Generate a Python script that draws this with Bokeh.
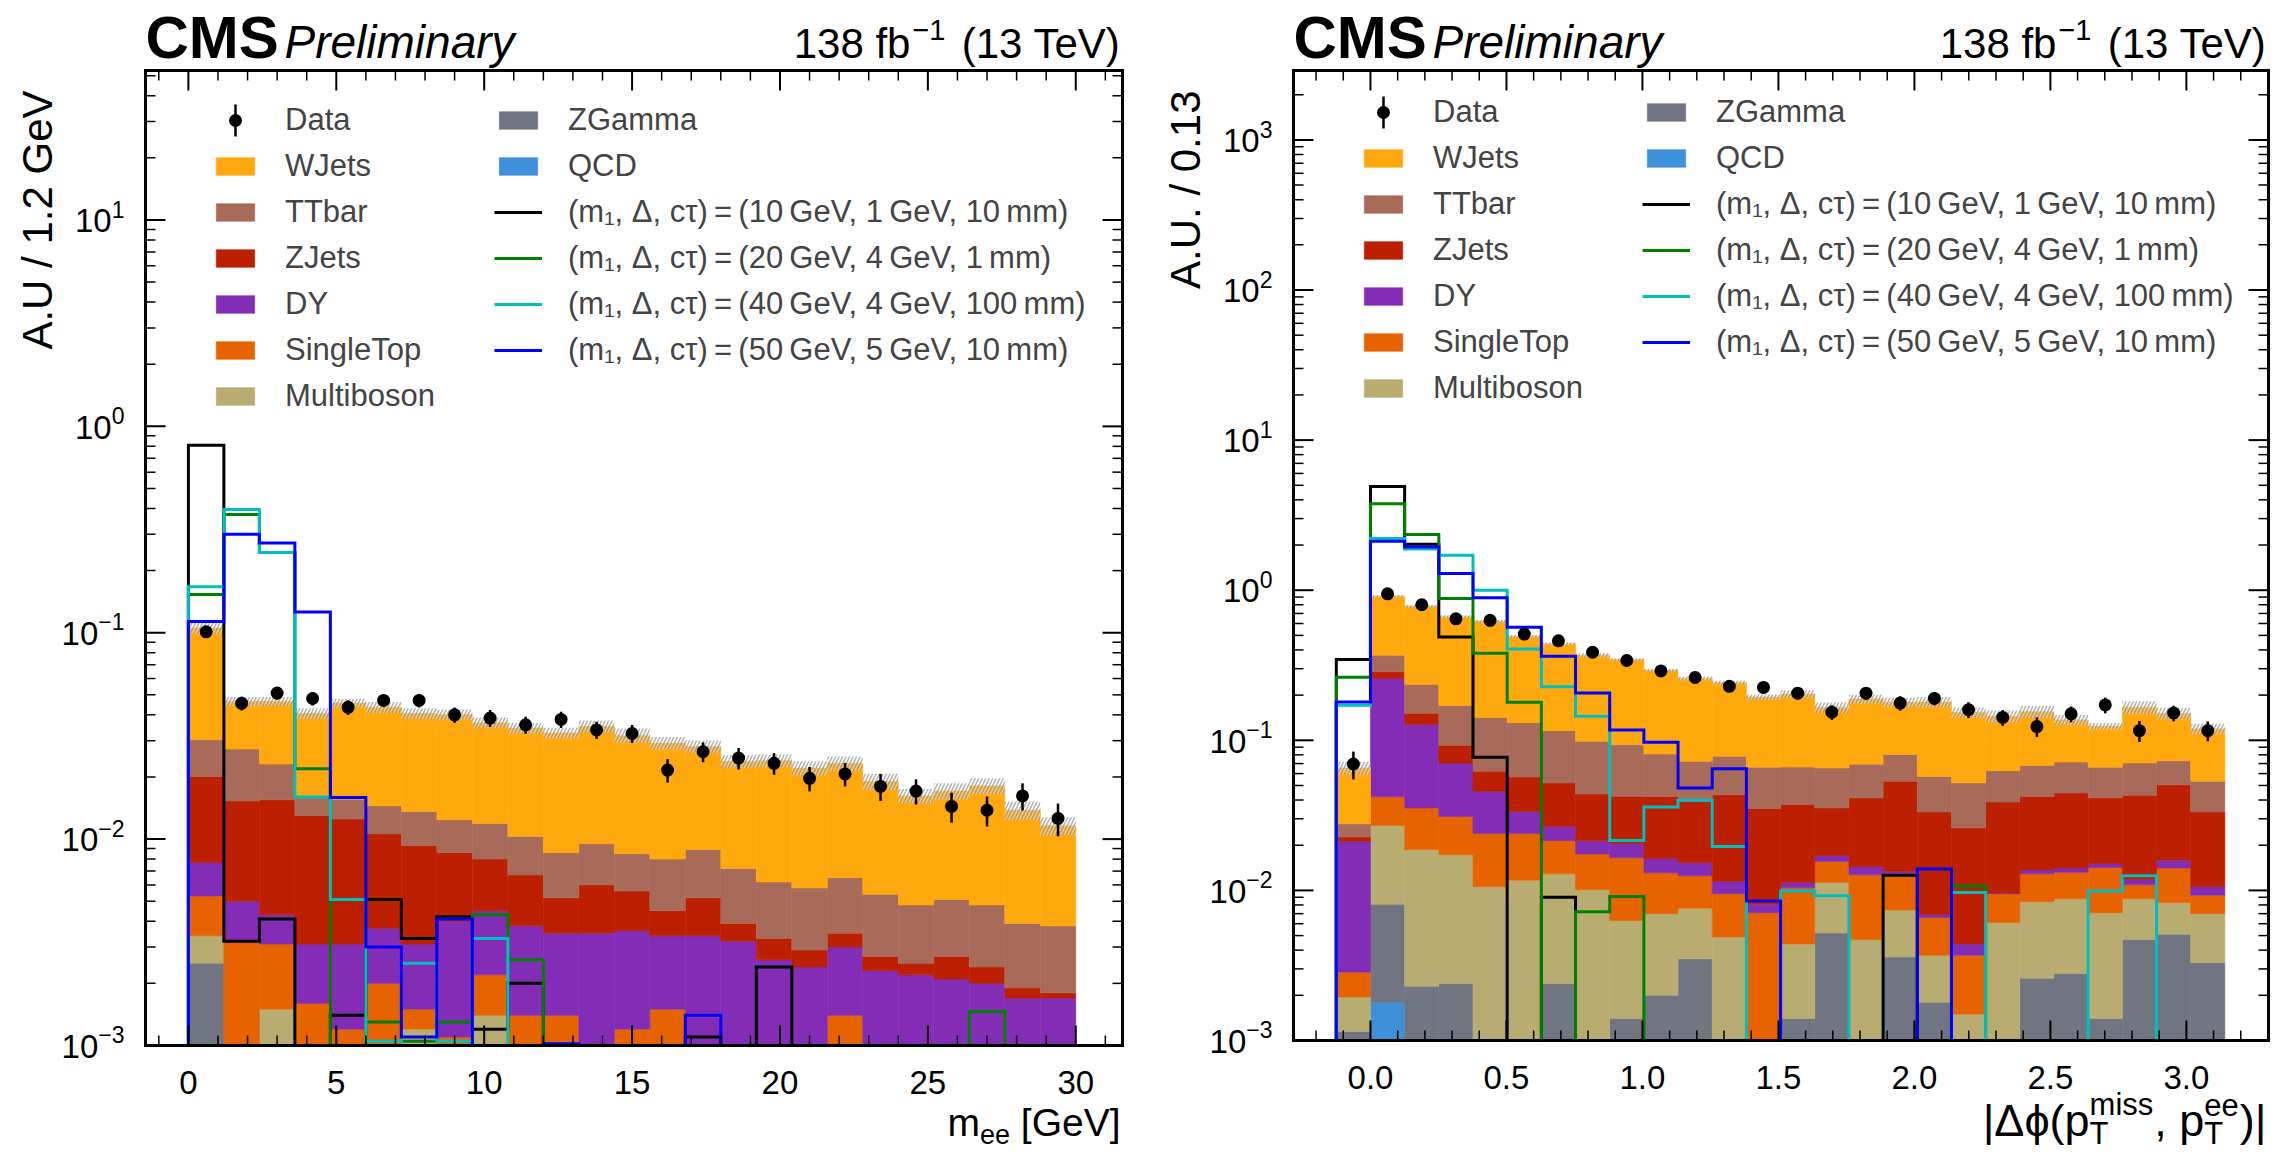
import math
from bokeh.plotting import figure
from bokeh.layouts import row
from bokeh.models import ColumnDataSource, Range1d, Legend, LegendItem
from bokeh.core.properties import value
from bokeh.embed import file_html
from bokeh.resources import INLINE

FONT = "Liberation Sans"
HEIGHT = 1158
K_BASE = 0.34   # alphabetic text is drawn this many em lower than its anchor; compensate
ROW_H, ROW_GAP = 36, 10   # legend row height and gap

# stacking order, bottom to top
PROCESSES = ["QCD", "ZGamma", "Multiboson", "SingleTop", "DY", "ZJets", "TTbar", "WJets"]
COLORS = {"WJets": "#ffa90e", "TTbar": "#a96b59", "ZJets": "#bd1f01", "DY": "#832db6",
          "SingleTop": "#e76300", "Multiboson": "#b9ac70", "ZGamma": "#717581", "QCD": "#3f90da"}

SIG_LABELS = [
    "(m\u2081, \u0394, c\u03c4)\u2009=\u2009(10\u2009GeV, 1\u2009GeV, 10\u2009mm)",
    "(m\u2081, \u0394, c\u03c4)\u2009=\u2009(20\u2009GeV, 4\u2009GeV, 1\u2009mm)",
    "(m\u2081, \u0394, c\u03c4)\u2009=\u2009(40\u2009GeV, 4\u2009GeV, 100\u2009mm)",
    "(m\u2081, \u0394, c\u03c4)\u2009=\u2009(50\u2009GeV, 5\u2009GeV, 10\u2009mm)",
]
SIG_COLORS = ["black", "#008000", "#00bfbf", "#0000ff"]

# ---------------- left panel: m_ee, bins of 1.2 GeV ----------------
mee_edges = [round(1.2 * i, 2) for i in range(26)]

mee_wjets = [0.075, 0.0192, 0.0234, 0.0245, 0.030, 0.029, 0.027, 0.0277, 0.0247, 0.0242, 0.0241, 0.0256, 0.0233,
             0.0212, 0.0192, 0.0166, 0.0178, 0.0163, 0.0168, 0.0136, 0.0114, 0.012, 0.0133, 0.0099, 0.0078]
mee_ttbar = [0.0102, 0.012, 0.0076, 0.0031, 0.0031, 0.0039, 0.0043, 0.0038, 0.0039, 0.0036, 0.0034, 0.0035, 0.0029,
             0.0035, 0.0037, 0.0033, 0.0029, 0.0029, 0.003, 0.0027, 0.0023, 0.0024, 0.0024, 0.002, 0.002]
mee_zjets = [0.0124, 0.0103, 0.0112, 0.0099, 0.0094, 0.0069, 0.0062, 0.0046, 0.0035, 0.0029, 0.0017, 0.0025, 0.002,
             0.0011, 0.0018, 0.0007, 0.0007, 0.0005, 0.0005, 0.0004, 0.0003, 0.0006, 0.0004, 0.0002, 0.0001]
mee_dy = [0.0024, 0.0018, 0.0012, 0.0015, 0.0019, 0.0017, 0.0016, 0.0029, 0.0023, 0.0024, 0.0021, 0.0035, 0.0024,
          0.0019, 0.0034, 0.0032, 0.0026, 0.0024, 0.0016, 0.0023, 0.0022, 0.0021, 0.002, 0.0017, 0.0017]
mee_singletop = [0.0019, 0.0032, 0.0016, 0.0016, 0.0012, 0.002, 0.0003, 0.0011, 0.0008, 0.0014, 0.0014, 0, 0.0012,
                 0.0015, 0, 0, 0, 0, 0.0014, 0, 0, 0, 0, 0, 0]
mee_multiboson = [0.0009, 0, 0.0015, 0, 0, 0, 0.0012, 0, 0.0014, 0, 0, 0, 0,
                  0, 0, 0, 0, 0, 0, 0, 0, 0, 0, 0, 0]
mee_zgamma = [0.0025, 0, 0, 0, 0, 0, 0, 0, 0, 0, 0, 0, 0,
              0, 0, 0, 0, 0, 0, 0, 0, 0, 0, 0, 0]
mee_qcd = [0, 0, 0, 0, 0, 0, 0, 0, 0, 0, 0, 0, 0,
           0, 0, 0, 0, 0, 0, 0, 0, 0, 0, 0, 0]
mee_unc = [0.06, 0.05, 0.05, 0.06, 0.05, 0.06, 0.06, 0.06, 0.06, 0.06, 0.06, 0.07, 0.08,
           0.07, 0.07, 0.07, 0.07, 0.08, 0.08, 0.09, 0.08, 0.09, 0.09, 0.1, 0.1]

mee_data = [0.101, 0.0455, 0.051, 0.048, 0.0435, 0.047, 0.047, 0.040, 0.0386, 0.0358, 0.038, 0.0338, 0.0325,
            0.0216, 0.0265, 0.0247, 0.0233, 0.0197, 0.0207, 0.018, 0.0171, 0.0144, 0.0138, 0.0162, 0.0126]
mee_data_err = [0.03, 0.077, 0.07, 0.075, 0.08, 0.065, 0.075, 0.085, 0.095, 0.095, 0.09, 0.095, 0.1,
                0.13, 0.11, 0.12, 0.12, 0.135, 0.13, 0.15, 0.14, 0.165, 0.165, 0.15, 0.18]

mee_sig_10_1_10 = [0.81, 0.0032, 0.0041, 0, 0.0014, 0.0051, 0.0033, 0.0042, 0.0012, 0.002, 0, 0, 0,
                   0, 0.0011, 0, 0.0024, 0, 0, 0, 0, 0, 0, 0, 0]
mee_sig_20_4_1 = [0.153, 0.374, 0.245, 0.0219, 0, 0.0013, 0.00105, 0.0013, 0.0043, 0.0026, 0, 0, 0,
                  0, 0, 0, 0, 0, 0, 0, 0, 0, 0.00146, 0, 0]
mee_sig_40_4_100 = [0.167, 0.395, 0.245, 0.016, 0.0051, 0.00105, 0.0025, 0.00105, 0.0033, 0, 0, 0, 0,
                    0, 0, 0, 0, 0, 0, 0, 0, 0, 0, 0, 0]
mee_sig_50_5_10 = [0.1135, 0.30, 0.272, 0.126, 0.0159, 0.003, 0.0011, 0.0041, 0, 0, 0.00102, 0, 0,
                   0, 0.0014, 0, 0, 0, 0, 0, 0, 0, 0, 0, 0]

# ---------------- right panel: |dphi|, bins of pi/25 ----------------
dphi_edges = [(i - 1) * math.pi / 25 for i in range(27)]

dphi_wjets = [0.0377, 0.543, 0.547, 0.496, 0.479, 0.362, 0.323, 0.27, 0.252, 0.212, 0.186, 0.164, 0.128,
              0.137, 0.10, 0.119, 0.099, 0.1225, 0.101, 0.082, 0.087, 0.065, 0.058, 0.095, 0.078, 0.066]
dphi_ttbar = [0.0051, 0.083, 0.084, 0.078, 0.080, 0.074, 0.064, 0.0545, 0.051, 0.0387, 0.0332, 0.0348, 0.031,
              0.029, 0.030, 0.028, 0.027, 0.0242, 0.026, 0.024, 0.0257, 0.0271, 0.0247, 0.0276, 0.0225, 0.020]
dphi_zjets = [0.0014, 0.028, 0.024, 0.022, 0.0164, 0.0234, 0.0253, 0.0225, 0.0219, 0.026, 0.024, 0.0319, 0.027,
              0.026, 0.0183, 0.0269, 0.040, 0.0264, 0.0217, 0.0292, 0.0286, 0.0305, 0.0263, 0.0313, 0.0346, 0.0227]
dphi_dy = [0.0184, 0.216, 0.092, 0.0395, 0.0218, 0.0097, 0.0052, 0.0039, 0.004, 0.0032, 0.0028, 0.002, 0.001,
           0.0009, 0.0015, 0.0017, 0.0005, 0.0003, 0.0007, 0.0001, 0.0008, 0.0009, 0.0009, 0.0009, 0.0018, 0.0013]
dphi_singletop = [0.0009, 0.0149, 0.0167, 0.0138, 0.0133, 0.0122, 0.0086, 0.0074, 0.0102, 0.0061, 0.0049, 0.0046,
                  0.0071, 0.006, 0.0043, 0.008, 0.0055, 0.0029, 0.0022, 0.0034, 0.0045, 0.0044, 0.0071, 0.0021,
                  0.0058, 0.0023]
dphi_multiboson = [0.0008, 0.019, 0.0164, 0.0149, 0.0106, 0.0117, 0.0105, 0.0101, 0.0049, 0.005, 0.0041, 0.0049,
                   0, 0.003, 0.0061, 0.0047, 0.0038, 0.0019, 0.0015, 0.0061, 0.0058, 0.006, 0.0057, 0.0041,
                   0.0032, 0.0037]
dphi_zgamma = [0.00115, 0.0063, 0.0023, 0.0024, 0, 0, 0.0024, 0, 0.0014, 0.002, 0.0035, 0, 0,
               0.0014, 0.0052, 0, 0.0036, 0.0018, 0, 0, 0.0026, 0.0028, 0.0014, 0.0047, 0.0051, 0.0033]
dphi_qcd = [0, 0.0018, 0, 0, 0, 0, 0, 0, 0, 0, 0, 0, 0,
            0, 0, 0, 0, 0, 0, 0, 0, 0, 0, 0, 0, 0]
dphi_unc = [0.1, 0.02, 0.02, 0.02, 0.02, 0.02, 0.02, 0.03, 0.02, 0.02, 0.03, 0.03, 0.04,
            0.06, 0.08, 0.07, 0.07, 0.08, 0.08, 0.09, 0.09, 0.08, 0.05, 0.1, 0.09, 0.08]

dphi_data = [0.0695, 0.946, 0.80, 0.645, 0.63, 0.51, 0.46, 0.386, 0.34, 0.29, 0.262, 0.229, 0.225,
             0.206, 0.154, 0.206, 0.177, 0.19, 0.16, 0.142, 0.1235, 0.15, 0.172, 0.116, 0.152, 0.116]
dphi_data_err = [0.21, 0.03, 0.03, 0.03, 0.03, 0.04, 0.05, 0.06, 0.06, 0.07, 0.07, 0.08, 0.09,
                 0.09, 0.11, 0.1, 0.11, 0.1, 0.12, 0.12, 0.15, 0.12, 0.12, 0.16, 0.12, 0.15]

dphi_sig_10_1_10 = [0.345, 4.91, 2.02, 0.487, 0.077, 0, 0.009, 0, 0, 0, 0, 0, 0,
                    0, 0, 0, 0.0126, 0, 0, 0, 0, 0, 0, 0, 0, 0]
dphi_sig_20_4_1 = [0.263, 3.77, 2.35, 0.88, 0.38, 0.179, 0, 0.0072, 0.0091, 0, 0, 0, 0,
                   0, 0, 0, 0, 0, 0.0107, 0, 0, 0, 0, 0, 0, 0]
dphi_sig_40_4_100 = [0.171, 2.21, 1.88, 1.71, 1.0, 0.406, 0.227, 0.1445, 0.0215, 0.036, 0.0398, 0.0196, 0,
                     0.0099, 0.0092, 0, 0, 0, 0.0097, 0, 0, 0, 0.0099, 0.0125, 0, 0]
dphi_sig_50_5_10 = [0.18, 2.12, 1.94, 1.29, 0.89, 0.567, 0.363, 0.207, 0.117, 0.097, 0.0481, 0.0647, 0.0085,
                    0, 0, 0, 0, 0.0139, 0, 0, 0, 0, 0, 0, 0, 0]

# tick values
mee_xticks = [0, 5, 10, 15, 20, 25, 30]
mee_xminor = [v for v in range(-1, 32) if v % 5]
mee_yticks = [1e-3, 1e-2, 1e-1, 1, 10]
dphi_xticks = [0.0, 0.5, 1.0, 1.5, 2.0, 2.5, 3.0]
dphi_xminor = [i / 10 for i in range(-2, 34) if i % 5]
dphi_yticks = [1e-3, 1e-2, 1e-1, 1, 10, 100, 1000]


class Panel:
    """A figure whose frame is the whole canvas; the visible plot box is drawn by hand."""

    def __init__(self, width, box, xlim, ylim):
        self.w = width
        self.fx0, self.fx1, self.fy0, self.fy1 = box
        self.xlo, self.xhi = xlim
        self.ylo, self.yhi = ylim
        self.sx = (self.fx1 - self.fx0) / (self.xhi - self.xlo)
        self.ly = (self.fy1 - self.fy0) / (math.log10(self.yhi) - math.log10(self.ylo))
        xr = (self.X(0), self.X(width))
        yr = (self.Y(HEIGHT), self.Y(0))
        self.p = figure(width=width, height=HEIGHT, x_range=Range1d(*xr), y_range=Range1d(*yr),
                        y_axis_type="log", x_axis_location=None, y_axis_location=None,
                        output_backend="svg", toolbar_location=None, min_border=0)
        self.p.grid.visible = False
        self.p.outline_line_color = None

    def X(self, px):
        return self.xlo + (px - self.fx0) / self.sx

    def Y(self, py):
        return 10 ** (math.log10(self.ylo) + (self.fy1 - py) / self.ly)

    def py(self, yval):
        return self.fy1 - (math.log10(yval) - math.log10(self.ylo)) * self.ly

    def text(self, px, py, txt, size, align="left", style="normal", rotated=False):
        # px, py: wanted baseline position in canvas pixels
        if rotated:
            px, angle = px - K_BASE * size, math.pi / 2
        else:
            py, angle = py - K_BASE * size, 0.0
        self.p.text(x=[self.X(px)], y=[self.Y(py)], text=[txt], text_font=value(FONT),
                    text_font_size=value(f"{size}px"), text_font_style=style, text_align=align,
                    text_baseline="alphabetic", angle=angle, text_color="black")


def make_panel(width, box, xlim, ylim, edges, stack, band_unc, data, data_err, signals,
               xticks, xminor, xfmt, yticks, ylabel, legend_top):
    pn = Panel(width, box, xlim, ylim)
    p = pn.p
    ylo, yhi = pn.ylo, pn.yhi
    n = len(data)
    centers = [(edges[i] + edges[i + 1]) / 2 for i in range(n)]

    # stacked backgrounds
    lo = [0.0] * n
    fills = {}
    for name in PROCESSES:
        vals = stack[name]
        hi = [a + v for a, v in zip(lo, vals)]
        keep = [i for i in range(n) if vals[i] > 0 and hi[i] > ylo]
        if not keep:
            # empty process: zero-height bins along the axis, so the legend still gets its swatch
            keep = list(range(n))
        src = ColumnDataSource(dict(left=[edges[i] for i in keep], right=[edges[i + 1] for i in keep],
                                    bottom=[max(lo[i], ylo) for i in keep],
                                    top=[min(max(hi[i], ylo), yhi) for i in keep]))
        fills[name] = p.quad(left="left", right="right", bottom="bottom", top="top", source=src,
                             fill_color=COLORS[name], line_color=COLORS[name], line_width=0.6)
        lo = hi

    # hatched uncertainty band around the total
    p.quad(left=edges[:-1], right=edges[1:],
           bottom=[t * (1 - u) for t, u in zip(lo, band_unc)],
           top=[t * (1 + u) for t, u in zip(lo, band_unc)],
           fill_color="white", fill_alpha=0.35, line_color=None,
           hatch_pattern="/", hatch_color="gray", hatch_alpha=0.6, hatch_scale=7, hatch_weight=1.6)

    # signal histograms
    sig_r = []
    for vals, color in zip(signals, SIG_COLORS):
        xs = [edges[0]] + list(edges) + [edges[-1]]
        ys = [ylo] + [min(max(v, ylo), yhi) for v in vals] + [max(vals[-1], ylo), ylo]
        sig_r.append(p.step(xs, ys, mode="after", line_color=color, line_width=3, line_join="miter"))

    # data
    p.segment(x0=centers, y0=[d * (1 - e) for d, e in zip(data, data_err)],
              x1=centers, y1=[d * (1 + e) for d, e in zip(data, data_err)],
              line_color="black", line_width=2.5)
    dots = p.scatter(centers, data, marker="circle", size=11, fill_color="black",
                     line_color="black", line_width=2)

    # ticks on all four sides, pointing inwards
    yminor = [m * 10.0 ** e for e in range(-3, 4) for m in range(2, 10) if ylo < m * 10.0 ** e < yhi]
    up_major, up_minor = pn.Y(pn.fy1 - 20), pn.Y(pn.fy1 - 10)
    dn_major, dn_minor = pn.Y(pn.fy0 + 20), pn.Y(pn.fy0 + 10)
    for ticks, ln_up, ln_dn, lw in ((xticks, up_major, dn_major, 2), (xminor, up_minor, dn_minor, 1.5)):
        p.segment(x0=ticks + ticks, y0=[ylo] * len(ticks) + [yhi] * len(ticks),
                  x1=ticks + ticks, y1=[ln_up] * len(ticks) + [ln_dn] * len(ticks),
                  line_color="black", line_width=lw)
    for ticks, length, lw in ((yticks, 20, 2), (yminor, 10, 1.5)):
        xa, xb = pn.X(pn.fx0 + length), pn.X(pn.fx1 - length)
        p.segment(x0=[pn.xlo] * len(ticks) + [pn.xhi] * len(ticks), y0=ticks + ticks,
                  x1=[xa] * len(ticks) + [xb] * len(ticks), y1=ticks + ticks,
                  line_color="black", line_width=lw)

    # frame
    p.segment(x0=[pn.xlo, pn.xlo, pn.xlo, pn.xhi], y0=[ylo, yhi, ylo, ylo],
              x1=[pn.xhi, pn.xhi, pn.xlo, pn.xhi], y1=[ylo, yhi, yhi, yhi],
              line_color="black", line_width=3, line_cap="square")

    # tick labels
    lab_y = pn.Y(pn.fy1 + 25)
    p.text(x=xticks, y=[lab_y] * len(xticks), text=[xfmt(t) for t in xticks], text_font=value(FONT),
           text_font_size=value("33px"), text_align="center", text_baseline="top", text_color="black")
    x_end = pn.fx0 - 21
    for t in yticks:
        e = str(round(math.log10(t))).replace("-", "\u2212")
        w_sup = sum(0.584 if c == "\u2212" else 0.556 for c in e) * 23
        ty = pn.py(t)
        pn.text(x_end - w_sup, ty + 12, "10", 33, align="right")
        pn.text(x_end - w_sup, ty - 3, e, 23)

    # legend in two columns
    leg_kw = dict(glyph_width=48, glyph_height=22, label_standoff=26, spacing=ROW_GAP, padding=0, margin=0,
                  border_line_color=None, background_fill_alpha=0, label_text_font=FONT,
                  label_text_font_size="31px", label_height=ROW_H)
    col1 = [LegendItem(label="Data", renderers=[dots])]
    col1 += [LegendItem(label=k, renderers=[fills[k]])
             for k in ("WJets", "TTbar", "ZJets", "DY", "SingleTop", "Multiboson")]
    col2 = [LegendItem(label=k, renderers=[fills[k]]) for k in ("ZGamma", "QCD")]
    col2 += [LegendItem(label=lab, renderers=[r]) for lab, r in zip(SIG_LABELS, sig_r)]
    h1 = len(col1) * ROW_H + (len(col1) - 1) * ROW_GAP
    h2 = len(col2) * ROW_H + (len(col2) - 1) * ROW_GAP
    top = pn.fy0 + legend_top
    p.add_layout(Legend(items=col1, location=(pn.fx0 + 66, HEIGHT - top - h1), **leg_kw))
    p.add_layout(Legend(items=col2, location=(pn.fx0 + 349, HEIGHT - top - h2), **leg_kw))
    # error bar of the "Data" legend entry
    gx = pn.X(pn.fx0 + 90)
    gy = top + ROW_H / 2
    p.segment(x0=[gx], y0=[pn.Y(gy + 16)], x1=[gx], y1=[pn.Y(gy - 16)],
              line_color="black", line_width=2.5)
    p.scatter([gx], [pn.Y(gy)], marker="circle", size=11, fill_color="black",
              line_color="black", line_width=2)

    # header
    pn.text(pn.fx0, pn.fy0 - 13, "CMS", 60, style="bold")
    pn.text(pn.fx0 + 139, pn.fy0 - 13, "Preliminary", 46, style="italic")
    r_edge = pn.fx1 - 2
    w_tev = (3.89 + 0.278) * 42
    pn.text(r_edge, pn.fy0 - 13, "(13 TeV)", 42, align="right")
    pn.text(r_edge - w_tev, pn.fy0 - 31, "\u22121", 29, align="right")
    pn.text(r_edge - w_tev - 35, pn.fy0 - 13, "138 fb", 42, align="right")

    # y label, top aligned
    pn.text(pn.fx0 - 94, pn.fy0 + 20, ylabel, 42, align="right", rotated=True)
    return pn


stack_mee = {"QCD": mee_qcd, "ZGamma": mee_zgamma, "Multiboson": mee_multiboson, "SingleTop": mee_singletop,
             "DY": mee_dy, "ZJets": mee_zjets, "TTbar": mee_ttbar, "WJets": mee_wjets}
stack_dphi = {"QCD": dphi_qcd, "ZGamma": dphi_zgamma, "Multiboson": dphi_multiboson,
              "SingleTop": dphi_singletop, "DY": dphi_dy, "ZJets": dphi_zjets, "TTbar": dphi_ttbar,
              "WJets": dphi_wjets}

left = make_panel(1158, (145, 1122, 70, 1045), (-1.45, 31.58), (1e-3, 53),
                  mee_edges, stack_mee, mee_unc, mee_data, mee_data_err,
                  [mee_sig_10_1_10, mee_sig_20_4_1, mee_sig_40_4_100, mee_sig_50_5_10],
                  mee_xticks, mee_xminor, lambda t: str(int(t)), mee_yticks, "A.U / 1.2 GeV", 32)

right = make_panel(1126, (135, 1110, 70, 1040), (-0.283, 3.302), (1e-3, 2900),
                   dphi_edges, stack_dphi, dphi_unc, dphi_data, dphi_data_err,
                   [dphi_sig_10_1_10, dphi_sig_20_4_1, dphi_sig_40_4_100, dphi_sig_50_5_10],
                   dphi_xticks, dphi_xminor, lambda t: f"{t:.1f}", dphi_yticks, "A.U. / 0.13", 24)

# x-axis label, left: m_ee [GeV]
base = 1135
fs, ss = 39, 27
R = left.fx1 - 2
left.text(R, base, "[GeV]", fs, align="right")
x_sub = R - (2.557 + 0.278) * fs - 1.112 * ss
left.text(x_sub, base + 8, "ee", ss)
left.text(x_sub, base, "m", fs, align="right")

# x-axis label, right: |dphi(pT^miss, pT^ee)|
fs, ss = 45, 31
R = right.fx1 - 2
right.text(R, base, ")|", fs, align="right")
x_ee = R - 0.593 * fs - 1.112 * ss - 1
right.text(x_ee, base - 20, "ee", ss)
right.text(x_ee, base + 9, "T", ss)
right.text(x_ee, base, ", p", fs, align="right")
x_m = x_ee - 1.112 * fs - 2.055 * ss - 1
right.text(x_m, base - 20, "miss", ss)
right.text(x_m, base + 9, "T", ss)
right.text(x_m, base, "|\u0394\u03d5(p", fs, align="right")

layout = row(left.p, right.p)
open("out.html", "w", encoding="utf-8").write(file_html(layout, INLINE))
